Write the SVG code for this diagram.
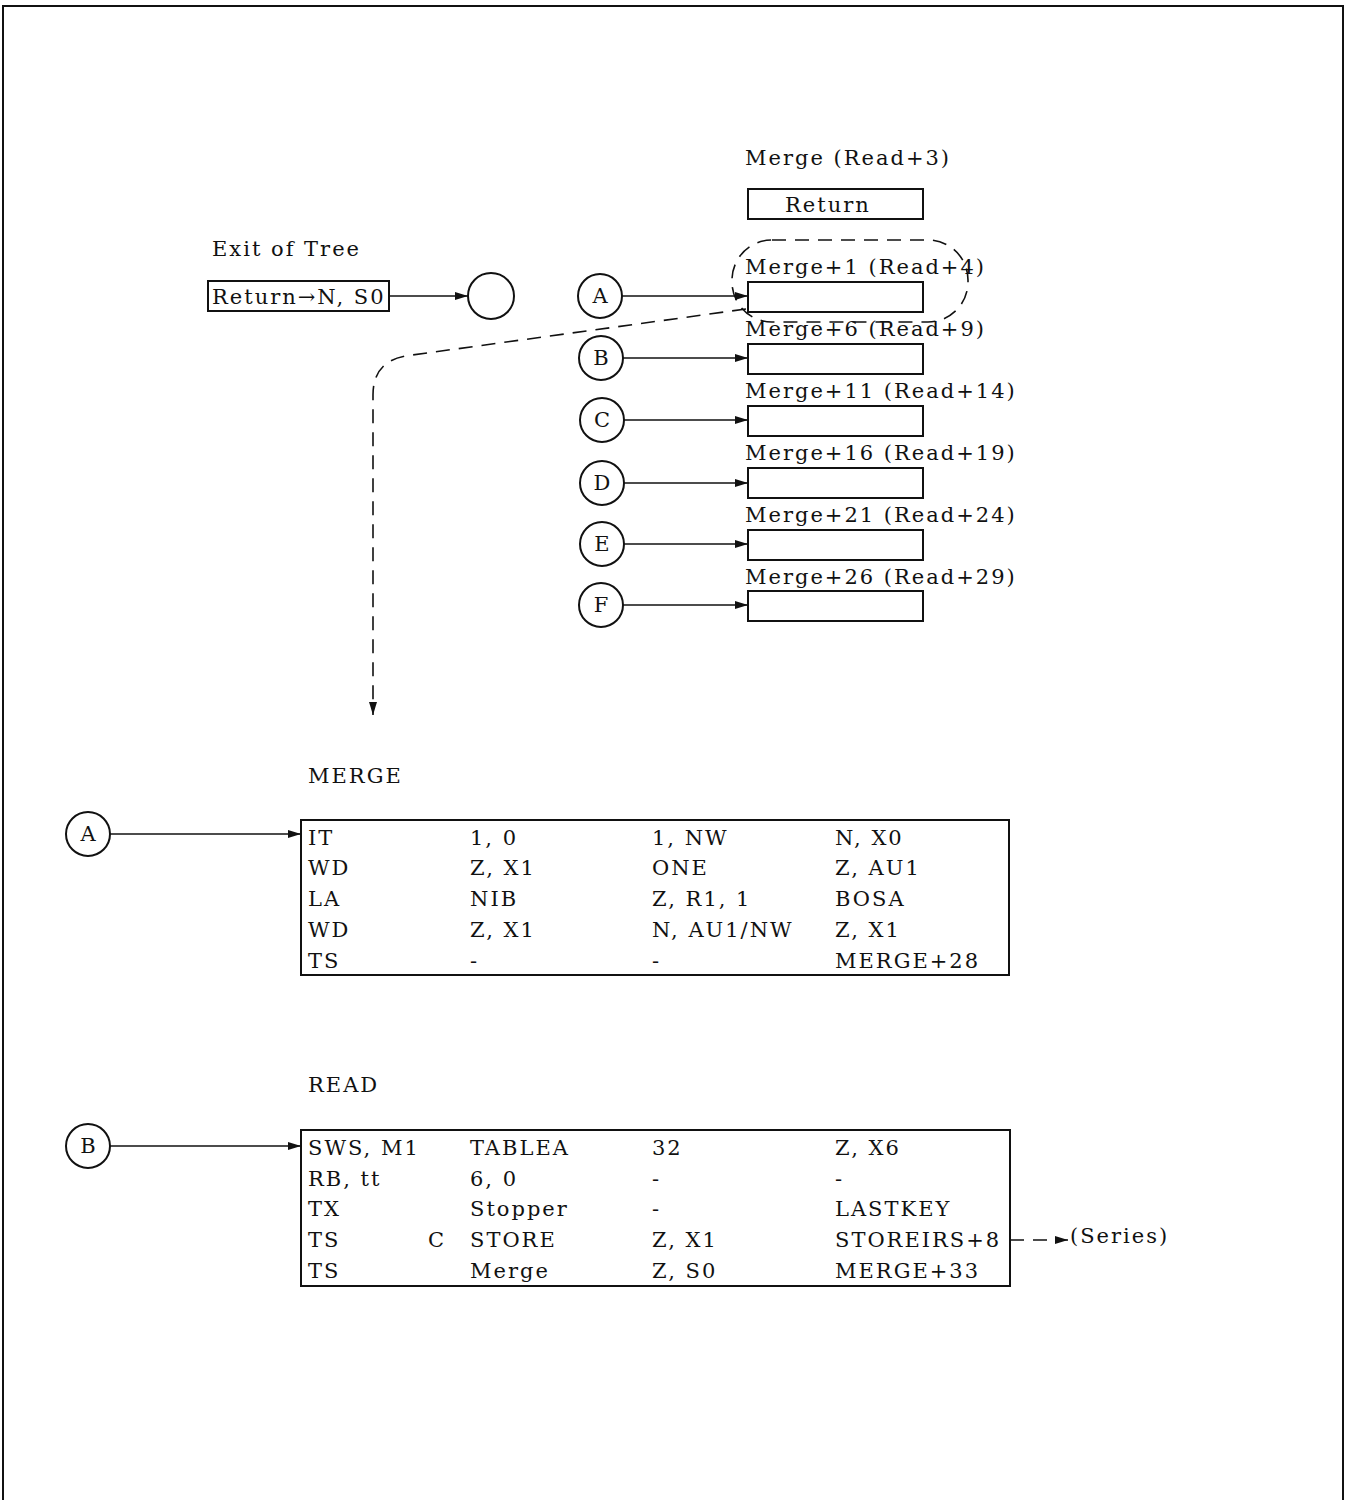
<svg xmlns="http://www.w3.org/2000/svg" width="1347" height="1500" viewBox="0 0 1347 1500">
<defs>
<marker id="ah" markerWidth="13" markerHeight="9" refX="13" refY="4.5" orient="auto" markerUnits="userSpaceOnUse"><path d="M0,0.5 L13,4.5 L0,8.5 Z" fill="#111"/></marker>
</defs>
<style>
text{font-family:"DejaVu Serif","Liberation Serif",serif;font-size:21px;fill:#111;letter-spacing:2px}
.b{fill:none;stroke:#111;stroke-width:2}
.c{fill:#fff;stroke:#111;stroke-width:2}
.l{fill:none;stroke:#111;stroke-width:1.6}
.d{fill:none;stroke:#111;stroke-width:1.6;stroke-dasharray:14,9}
.ct{text-anchor:middle;letter-spacing:0}
</style>
<rect width="1347" height="1500" fill="#fff"/>
<path d="M3,1500 V6 H1343 V1500" fill="none" stroke="#111" stroke-width="2"/>

<g id="connectors">
<line class="l" x1="389" y1="296" x2="468" y2="296" marker-end="url(#ah)"/>
<line class="l" x1="622" y1="296" x2="748" y2="296" marker-end="url(#ah)"/>
<line class="l" x1="623" y1="358" x2="748" y2="358" marker-end="url(#ah)"/>
<line class="l" x1="624" y1="420" x2="748" y2="420" marker-end="url(#ah)"/>
<line class="l" x1="624" y1="483" x2="748" y2="483" marker-end="url(#ah)"/>
<line class="l" x1="624" y1="544" x2="748" y2="544" marker-end="url(#ah)"/>
<line class="l" x1="623" y1="605" x2="748" y2="605" marker-end="url(#ah)"/>
<path class="d" d="M746,309 L405,356 Q373,362 373,395 L373,715" marker-end="url(#ah)"/>
<line class="l" x1="110" y1="834" x2="301" y2="834" marker-end="url(#ah)"/>
<line class="l" x1="110" y1="1146" x2="301" y2="1146" marker-end="url(#ah)"/>
<line class="d" x1="1010" y1="1240" x2="1068" y2="1240" stroke-dasharray="7,6" marker-end="url(#ah)"/>
<rect class="d" x="732" y="240" width="236" height="82" rx="40" ry="40"/>
</g>

<g id="exit-of-tree">
<text x="212" y="256">Exit of Tree</text>
<rect class="b" x="208" y="281" width="181" height="30"/>
<text x="212" y="304" letter-spacing="0.3">Return→N, S0</text>
</g>
<g id="exit-circle"><circle class="c" cx="491" cy="296" r="23"/></g>

<g id="merge-return">
<text x="745" y="165">Merge (Read+3)</text>
<rect class="b" x="748" y="189" width="175" height="30"/>
<text x="785" y="212">Return</text>
</g>

<g id="merge1"><text x="745" y="274">Merge+1 (Read+4)</text><rect class="b" x="748" y="282" width="175" height="30"/></g>
<g id="merge6"><text x="745" y="336">Merge+6 (Read+9)</text><rect class="b" x="748" y="344" width="175" height="30"/></g>
<g id="merge11"><text x="745" y="398">Merge+11 (Read+14)</text><rect class="b" x="748" y="406" width="175" height="30"/></g>
<g id="merge16"><text x="745" y="460">Merge+16 (Read+19)</text><rect class="b" x="748" y="468" width="175" height="30"/></g>
<g id="merge21"><text x="745" y="522">Merge+21 (Read+24)</text><rect class="b" x="748" y="530" width="175" height="30"/></g>
<g id="merge26"><text x="745" y="584">Merge+26 (Read+29)</text><rect class="b" x="748" y="591" width="175" height="30"/></g>

<g id="circle-A"><circle class="c" cx="600" cy="296" r="22"/><text class="ct" x="600" y="303">A</text></g>
<g id="circle-B"><circle class="c" cx="601" cy="358" r="22"/><text class="ct" x="601" y="365">B</text></g>
<g id="circle-C"><circle class="c" cx="602" cy="420" r="22"/><text class="ct" x="602" y="427">C</text></g>
<g id="circle-D"><circle class="c" cx="602" cy="483" r="22"/><text class="ct" x="602" y="490">D</text></g>
<g id="circle-E"><circle class="c" cx="602" cy="544" r="22"/><text class="ct" x="602" y="551">E</text></g>
<g id="circle-F"><circle class="c" cx="601" cy="605" r="22"/><text class="ct" x="601" y="612">F</text></g>

<g id="merge-table">
<text x="308" y="783">MERGE</text>
<rect class="b" x="301" y="820" width="708" height="155"/>
<text x="308" y="845">IT</text><text x="470" y="845">1, 0</text><text x="652" y="845">1, NW</text><text x="835" y="845">N, X0</text>
<text x="308" y="875">WD</text><text x="470" y="875">Z, X1</text><text x="652" y="875">ONE</text><text x="835" y="875">Z, AU1</text>
<text x="308" y="906">LA</text><text x="470" y="906">NIB</text><text x="652" y="906">Z, R1, 1</text><text x="835" y="906">BOSA</text>
<text x="308" y="937">WD</text><text x="470" y="937">Z, X1</text><text x="652" y="937">N, AU1/NW</text><text x="835" y="937">Z, X1</text>
<text x="308" y="968">TS</text><text x="470" y="968">-</text><text x="652" y="968">-</text><text x="835" y="968">MERGE+28</text>
</g>
<g id="circle-A2"><circle class="c" cx="88" cy="834" r="22"/><text class="ct" x="88" y="841">A</text></g>

<g id="read-table">
<text x="308" y="1092">READ</text>
<rect class="b" x="301" y="1130" width="709" height="156"/>
<text x="308" y="1155">SWS, M1</text><text x="470" y="1155">TABLEA</text><text x="652" y="1155">32</text><text x="835" y="1155">Z, X6</text>
<text x="308" y="1186">RB, tt</text><text x="470" y="1186">6, 0</text><text x="652" y="1186">-</text><text x="835" y="1186">-</text>
<text x="308" y="1216">TX</text><text x="470" y="1216">Stopper</text><text x="652" y="1216">-</text><text x="835" y="1216">LASTKEY</text>
<text x="308" y="1247">TS</text><text x="428" y="1247">C</text><text x="470" y="1247">STORE</text><text x="652" y="1247">Z, X1</text><text x="835" y="1247">STOREIRS+8</text>
<text x="308" y="1278">TS</text><text x="470" y="1278">Merge</text><text x="652" y="1278">Z, S0</text><text x="835" y="1278">MERGE+33</text>
<text x="1070" y="1243">(Series)</text>
</g>
<g id="circle-B2"><circle class="c" cx="88" cy="1146" r="22"/><text class="ct" x="88" y="1153">B</text></g>
</svg>
